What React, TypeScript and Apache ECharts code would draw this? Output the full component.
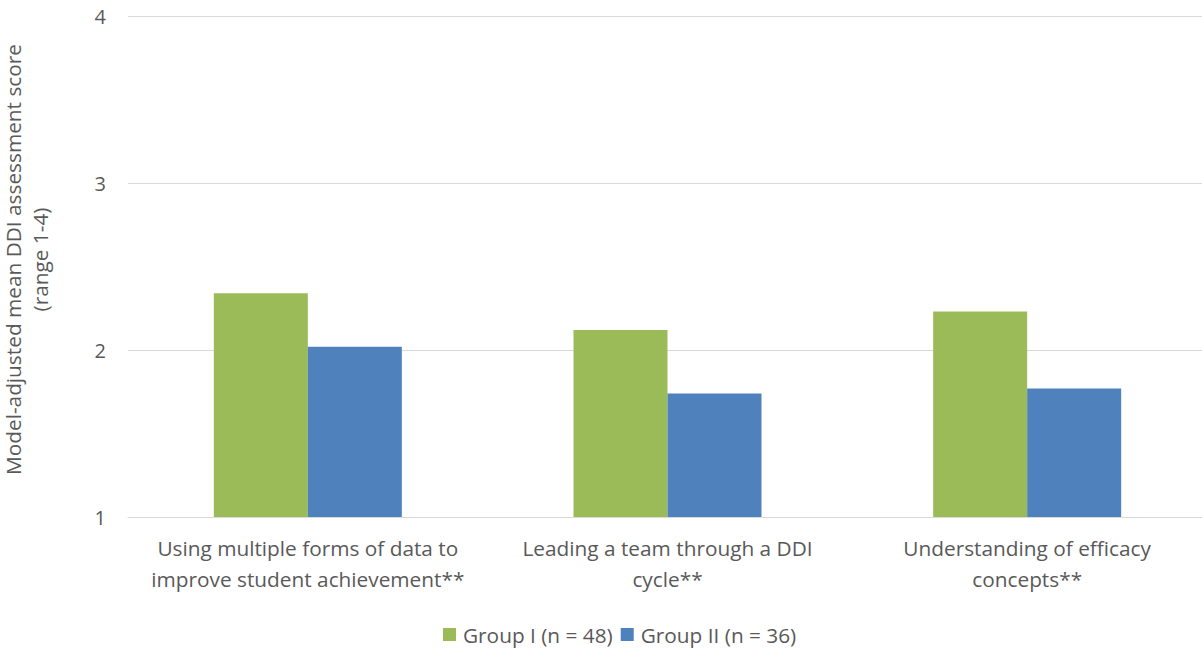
import React, { useEffect, useRef } from "react";
import * as echarts from "echarts";

const categories = [
  "Using multiple forms of data to\nimprove student achievement**",
  "Leading a team through a DDI\ncycle**",
  "Understanding of efficacy\nconcepts**",
];
const groupOneName = "Group I (n = 48)";
const groupTwoName = "Group II (n = 36)";
const groupOneValues = [2.34, 2.12, 2.23];
const groupTwoValues = [2.02, 1.74, 1.77];
const yTicks = [1, 2, 3, 4];

const FONT = "'Open Sans', sans-serif";
const TEXT = "#595959";

export default function App() {
  const ref = useRef<HTMLDivElement>(null);

  useEffect(() => {
    document.body.style.margin = "0";
    const chart = echarts.init(ref.current!, null, { renderer: "svg" });
    chart.setOption({
      animation: false,
      backgroundColor: "#ffffff",
      textStyle: { fontFamily: FONT, color: TEXT },
      grid: { left: 128, right: -5, top: 16, bottom: 135, outerBoundsMode: "none" },
      legend: {
        top: 624,
        left: 443,
        padding: 0,
        itemWidth: 13,
        itemHeight: 13,
        itemGap: 8,
        icon: "rect",
        textStyle: { fontFamily: FONT, fontSize: 20.8, color: TEXT, padding: [0, 0, 0, 2] },
        data: [groupOneName, groupTwoName],
      },
      xAxis: {
        type: "category",
        data: categories,
        axisTick: { show: false },
        axisLine: { lineStyle: { color: "#d9d9d9", width: 1 } },
        axisLabel: {
          fontFamily: FONT,
          fontSize: 20.8,
          color: TEXT,
          lineHeight: 31,
          margin: 15,
          interval: 0,
        },
      },
      yAxis: {
        type: "value",
        min: yTicks[0],
        max: yTicks[yTicks.length - 1],
        interval: 1,
        name: "Model-adjusted mean DDI assessment score\n(range 1-4)",
        nameLocation: "middle",
        nameGap: 75,
        nameTextStyle: {
          fontFamily: FONT,
          fontSize: 20.8,
          color: TEXT,
          lineHeight: 27,
          padding: [0, 0, 0, 14],
        },
        axisLine: { show: false },
        axisTick: { show: false },
        axisLabel: { fontFamily: FONT, fontSize: 20, color: TEXT, margin: 22 },
        splitLine: { lineStyle: { color: "#d9d9d9", width: 1 } },
      },
      series: [
        {
          name: groupOneName,
          type: "bar",
          data: groupOneValues,
          barWidth: 94,
          barGap: "0%",
          itemStyle: { color: "#9bbb59" },
        },
        {
          name: groupTwoName,
          type: "bar",
          data: groupTwoValues,
          barWidth: 94,
          barGap: "0%",
          itemStyle: { color: "#4f81bd" },
        },
      ],
    });
    return () => chart.dispose();
  }, []);

  return <div ref={ref} style={{ width: 1202, height: 652 }} />;
}
